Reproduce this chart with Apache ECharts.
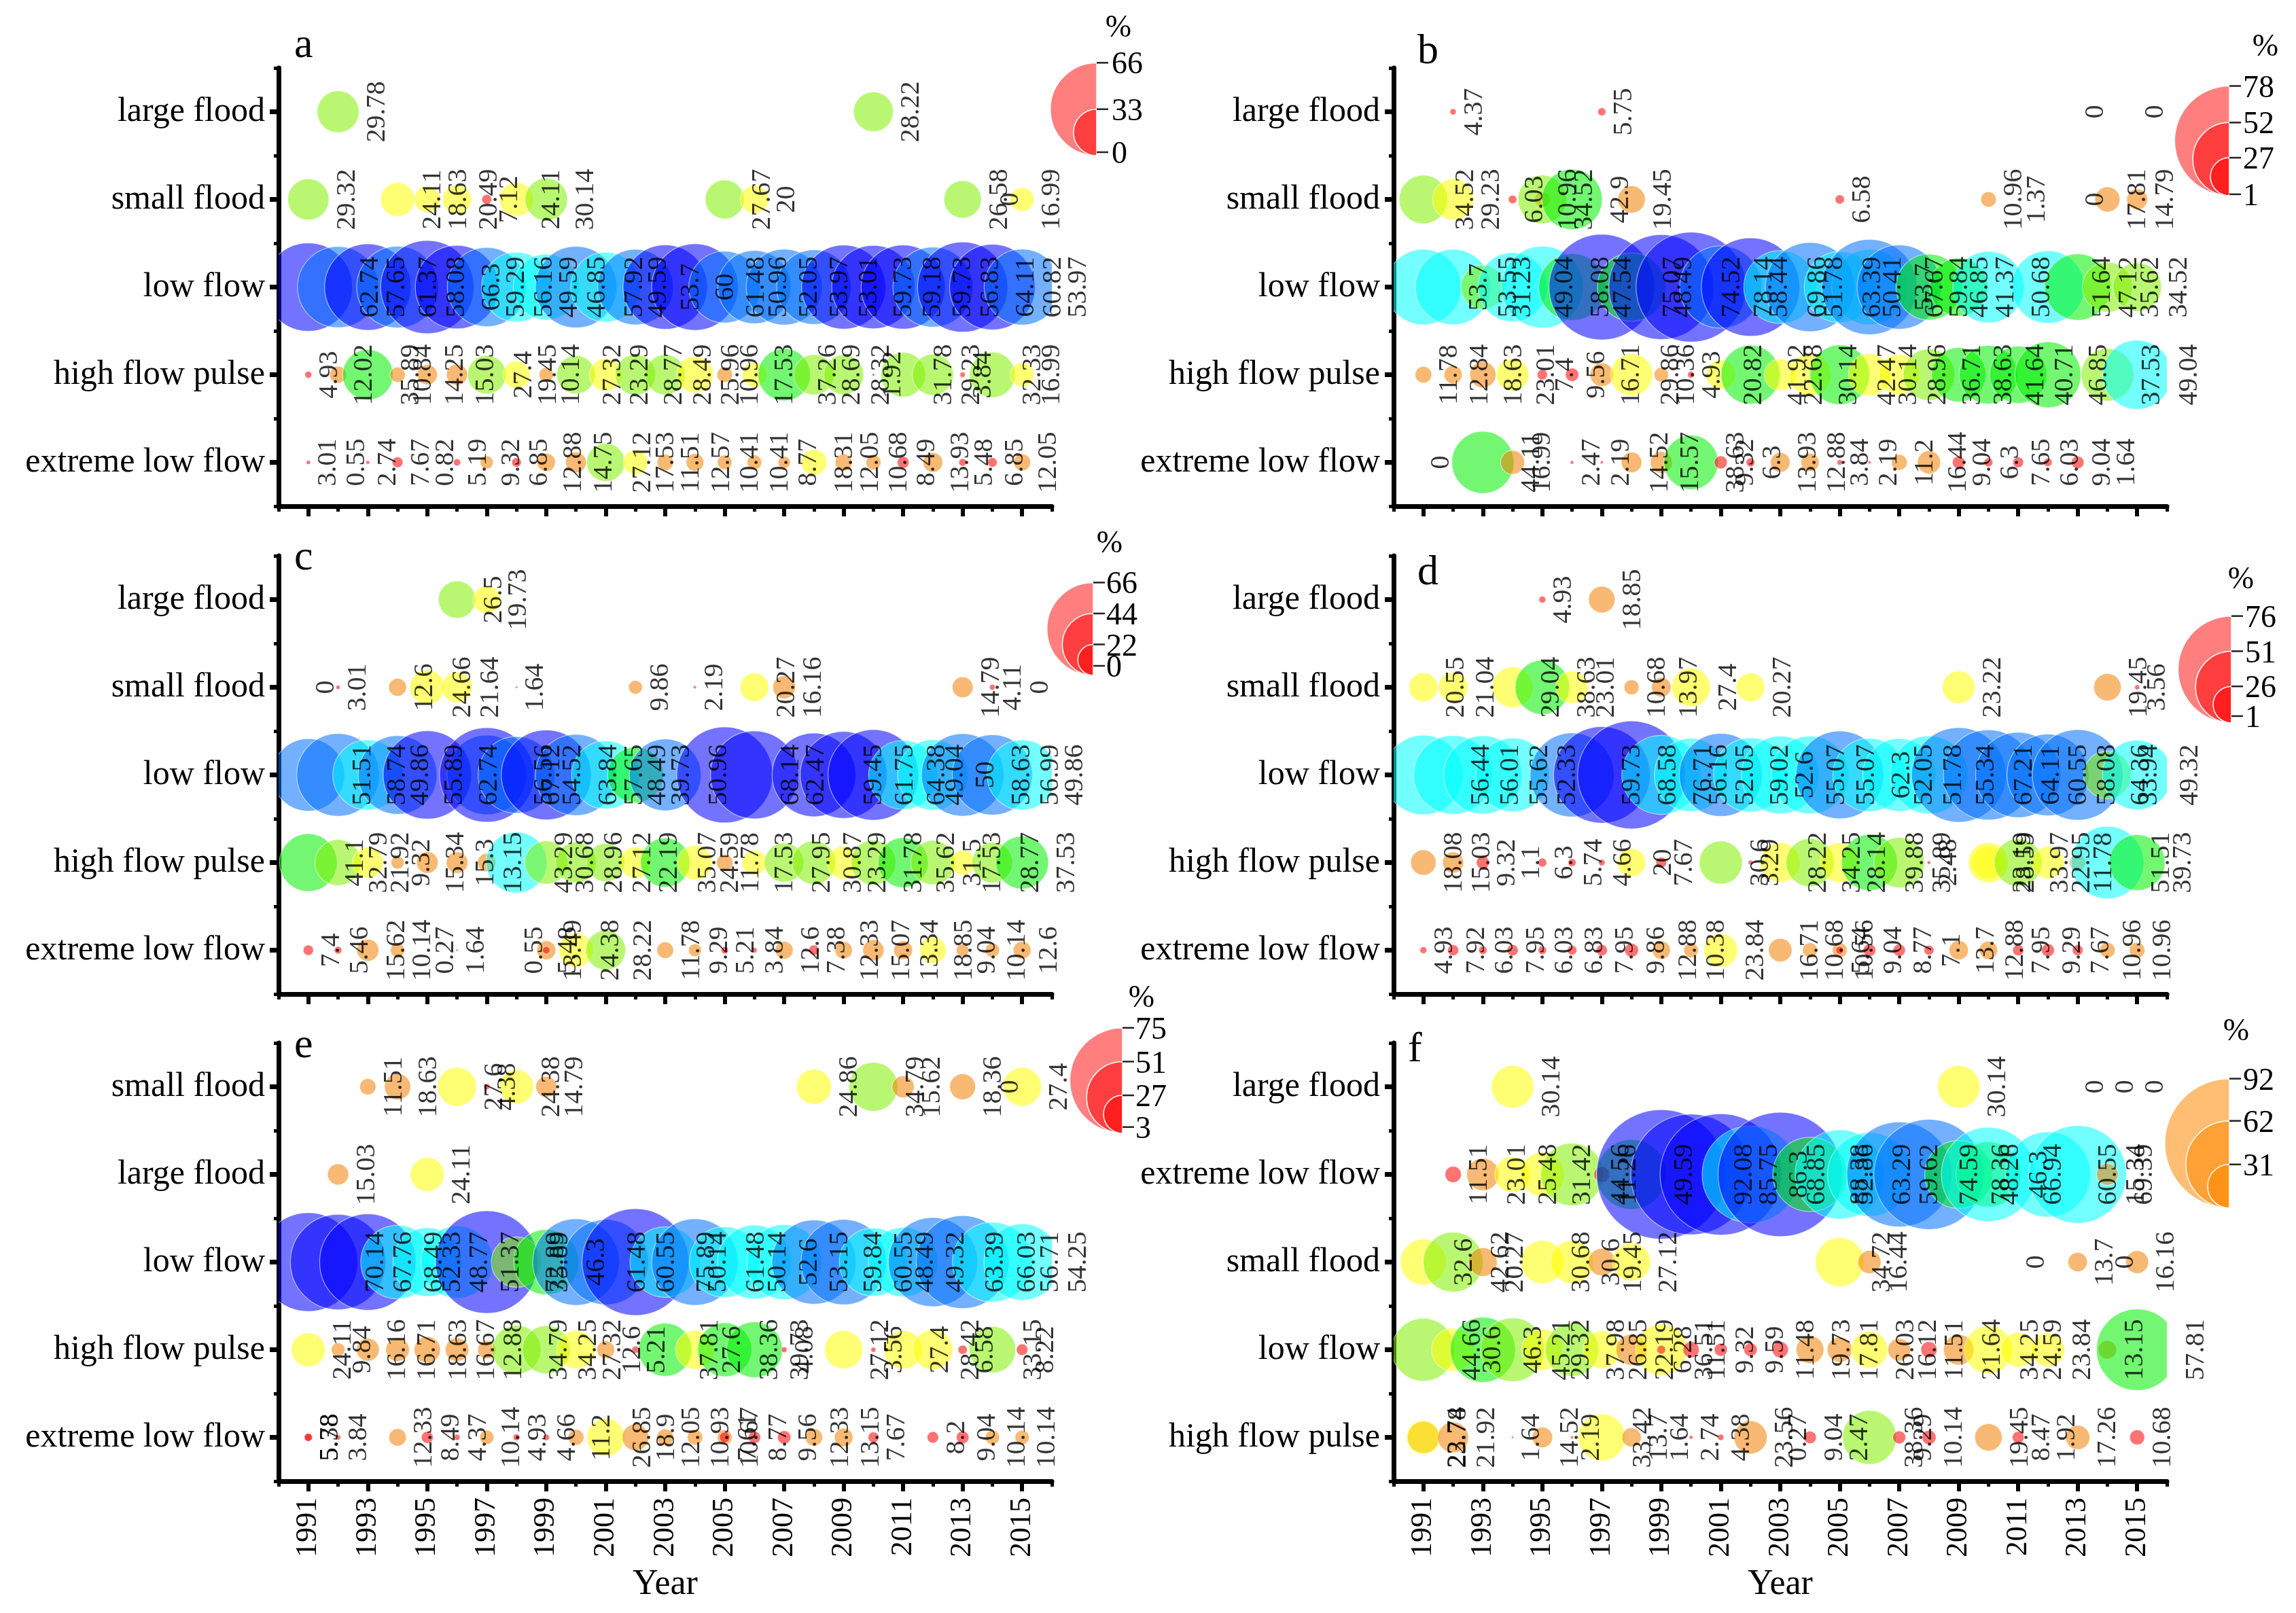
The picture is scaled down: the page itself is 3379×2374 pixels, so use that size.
<!DOCTYPE html>
<html><head><meta charset="utf-8">
<style>html,body{margin:0;padding:0;background:#fff}#c{width:3379px;height:2374px}</style>
<script src="https://cdn.jsdelivr.net/npm/echarts@6/dist/echarts.min.js"></script>
</head><body><div id="c"></div>
<script>
const oddYears=[1991,1993,1995,1997,1999,2001,2003,2005,2007,2009,2011,2013,2015];
const evenYears=[1990,1992,1994,1996,1998,2000,2002,2004,2006,2008,2010,2012,2014,2016];
const rowsStd=["large flood","small flood","low flow","high flow pulse","extreme low flow"];
const rowsE=["small flood","large flood","low flow","high flow pulse","extreme low flow"];
const rowsF=["large flood","extreme low flow","small flood","low flow","high flow pulse"];

// panel a
const aLarge=[[1992,29.78],[2010,28.22]];
const aSmall=[[1991,29.32],[1994,24.11],[1995,18.63],[1996,20.49],[1997,7.12],[1998,24.11],[1999,30.14],[2005,27.67],[2006,20],[2013,26.58],[2014,0],[2015,16.99]];
const aLow=[[1991,62.74],[1992,57.65],[1993,61.37],[1994,58.08],[1995,66.3],[1996,59.29],[1997,56.16],[1998,49.59],[1999,46.85],[2000,57.92],[2001,49.59],[2002,53.7],[2003,60],[2004,61.48],[2005,50.96],[2006,52.05],[2007,53.97],[2008,53.01],[2009,59.73],[2010,59.18],[2011,59.73],[2012,56.83],[2013,64.11],[2014,60.82],[2015,53.97]];
const aPulse=[[1991,4.93],[1992,12.02],[1993,35.89],[1994,10.84],[1995,14.25],[1996,15.03],[1997,27.4],[1998,19.45],[1999,10.14],[2000,27.32],[2001,23.29],[2002,28.77],[2003,28.49],[2004,25.96],[2005,10.96],[2006,17.53],[2007,37.26],[2008,28.69],[2009,28.32],[2010,1.92],[2011,31.78],[2012,29.23],[2013,3.84],[2014,32.33],[2015,16.99]];
const aExtreme=[[1991,3.01],[1992,0.55],[1993,2.74],[1994,7.67],[1995,0.82],[1996,5.19],[1997,9.32],[1998,6.85],[1999,12.88],[2000,14.75],[2001,27.12],[2002,17.53],[2003,11.51],[2004,12.57],[2005,10.41],[2006,10.41],[2007,8.77],[2008,18.31],[2009,12.05],[2010,10.68],[2011,8.49],[2012,13.93],[2013,5.48],[2014,6.85],[2015,12.05]];
// panel b
const bLarge=[[1992,4.37],[1997,5.75],[2013,0],[2015,0]];
const bSmall=[[1991,34.52],[1992,29.23],[1994,6.03],[1995,10.96],[1995,34.52],[1996,42.9],[1998,19.45],[2005,6.58],[2010,10.96],[2011,1.37],[2013,0],[2014,17.81],[2015,14.79]];
const bLow=[[1991,53.7],[1992,53.55],[1993,31.23],[1994,49.04],[1995,58.08],[1996,47.54],[1997,75.07],[1998,48.49],[1999,74.52],[2000,78.14],[2001,58.44],[2002,69.86],[2003,51.78],[2004,63.39],[2005,50.41],[2006,53.7],[2006,67.67],[2007,59.84],[2008,46.85],[2009,41.37],[2010,50.68],[2012,51.64],[2013,47.12],[2014,35.62],[2015,34.52]];
const bPulse=[[1991,11.78],[1992,12.84],[1993,18.63],[1994,23.01],[1995,7.4],[1996,9.56],[1997,16.71],[1998,29.86],[1999,10.36],[2000,4.93],[2001,20.82],[2002,41.92],[2003,22.68],[2004,30.14],[2005,42.47],[2006,30.14],[2007,28.96],[2008,36.71],[2009,38.63],[2010,41.64],[2011,40.71],[2012,46.85],[2014,37.53],[2015,49.04]];
const bExtreme=[[1991,0],[1993,44.11],[1994,16.99],[1996,2.47],[1997,2.19],[1998,14.52],[1999,15.57],[2000,38.63],[2001,9.32],[2002,6.3],[2003,13.93],[2004,12.88],[2005,3.84],[2006,2.19],[2007,11.2],[2008,16.44],[2009,9.04],[2010,6.3],[2011,7.65],[2012,6.03],[2013,9.04],[2014,1.64]];
// panel c
const cLarge=[[1996,26.5],[1997,19.73]];
const cSmall=[[1991,0],[1992,3.01],[1994,12.6],[1995,24.66],[1996,21.64],[1998,1.64],[2002,9.86],[2004,2.19],[2006,20.27],[2007,16.16],[2013,14.79],[2014,4.11],[2015,0]];
const cLow=[[1991,51.51],[1992,58.74],[1993,49.86],[1994,55.89],[1995,62.74],[1997,56.56],[1997,67.12],[1998,54.52],[1999,63.84],[2000,57.65],[2001,48.49],[2002,39.73],[2003,50.96],[2005,68.14],[2006,62.47],[2008,59.45],[2009,61.75],[2010,64.38],[2011,49.04],[2012,50],[2013,58.63],[2014,56.99],[2015,49.86]];
const cPulse=[[1991,41.1],[1992,32.79],[1993,21.92],[1994,9.32],[1995,15.34],[1996,15.3],[1997,13.15],[1998,43.29],[1999,30.68],[2000,28.96],[2001,27.12],[2002,22.19],[2003,35.07],[2004,24.59],[2005,11.78],[2006,17.53],[2007,27.95],[2008,30.87],[2009,23.29],[2010,31.78],[2011,35.62],[2012,31.5],[2013,17.53],[2014,28.77],[2015,37.53]];
const cExtreme=[[1991,7.4],[1992,5.46],[1993,15.62],[1994,10.14],[1995,0.27],[1996,1.64],[1998,0.55],[1999,13.49],[1999,5.48],[2000,24.38],[2001,28.22],[2003,11.78],[2004,9.29],[2005,5.21],[2006,3.84],[2007,12.6],[2008,7.38],[2009,12.33],[2010,15.07],[2011,13.34],[2012,18.85],[2013,9.04],[2014,10.14],[2015,12.6]];
// panel d
const dLarge=[[1995,4.93],[1997,18.85]];
const dSmall=[[1991,20.55],[1992,21.04],[1994,29.04],[1995,38.63],[1996,23.01],[1998,10.68],[1999,13.97],[2000,27.4],[2002,20.27],[2009,23.22],[2014,19.45],[2015,3.56]];
const dLow=[[1991,56.44],[1992,56.01],[1993,55.62],[1994,52.33],[1996,59.73],[1997,68.58],[1998,76.71],[1999,56.16],[2000,52.05],[2001,59.02],[2002,52.6],[2003,55.07],[2004,55.07],[2005,62.3],[2006,52.05],[2007,51.78],[2008,55.34],[2009,67.21],[2010,64.11],[2011,60.55],[2012,58.08],[2013,64.36],[2014,33.94],[2015,49.32]];
const dPulse=[[1991,18.08],[1992,15.03],[1993,9.32],[1994,1.1],[1995,6.3],[1996,5.74],[1997,4.66],[1998,20],[1999,7.67],[2001,30.6],[2002,3.29],[2003,28.22],[2004,34.25],[2005,28.14],[2006,39.88],[2007,35.89],[2008,2.48],[2010,23.19],[2010,28.59],[2011,33.97],[2012,22.95],[2013,11.78],[2014,51.51],[2015,39.73]];
const dExtreme=[[1991,4.93],[1992,7.92],[1993,6.03],[1994,7.95],[1995,6.03],[1996,6.83],[1997,7.95],[1998,9.86],[1999,12.88],[2000,10.38],[2001,23.84],[2003,16.71],[2004,10.68],[2005,10.56],[2005,5.64],[2006,9.04],[2007,8.77],[2008,7.1],[2009,13.7],[2010,12.88],[2011,7.95],[2012,9.29],[2013,7.67],[2014,10.96],[2015,10.96]];
// panel e
const eSmall=[[1993,11.51],[1994,18.63],[1996,27.6],[1997,4.38],[1998,24.38],[1999,14.79],[2008,24.86],[2010,34.79],[2011,15.62],[2013,18.36],[2014,0],[2015,27.4]];
const eLarge=[[1992,15.03],[1995,24.11]];
const eLow=[[1991,70.14],[1992,67.76],[1993,68.49],[1994,52.33],[1995,48.77],[1996,51.37],[1997,72.89],[1998,35.89],[1999,46.3],[2000,61.48],[2001,60.55],[2002,75.89],[2003,50.14],[2004,61.48],[2005,50.14],[2006,52.6],[2007,53.15],[2008,59.84],[2009,60.55],[2010,48.49],[2011,49.32],[2012,63.39],[2013,66.03],[2014,56.71],[2015,54.25]];
const ePulse=[[1991,24.11],[1992,9.84],[1993,16.16],[1994,16.71],[1995,18.63],[1996,16.67],[1997,12.88],[1998,34.79],[1999,34.25],[2000,27.32],[2001,12.6],[2002,5.21],[2003,37.81],[2004,27.6],[2005,38.36],[2006,39.73],[2007,4.08],[2009,27.12],[2010,3.56],[2011,27.4],[2012,28.42],[2013,6.58],[2014,33.15],[2015,8.22]];
const eExtreme=[[1991,5.38],[1991,5.78],[1992,3.84],[1994,12.33],[1995,8.49],[1996,4.37],[1997,10.14],[1998,4.93],[1999,4.66],[2000,11.2],[2001,26.85],[2002,18.9],[2003,12.05],[2004,10.93],[2005,10.67],[2005,7.61],[2006,8.77],[2007,9.56],[2008,12.33],[2009,13.15],[2010,7.67],[2012,8.2],[2013,9.04],[2014,10.14],[2015,10.14]];
// panel f
const fLarge=[[1994,30.14],[2009,30.14],[2013,0],[2014,0],[2015,0]];
const fExtreme=[[1992,11.51],[1993,23.01],[1994,25.48],[1995,31.42],[1996,44.56],[1997,11.26],[1998,49.59],[1999,92.08],[2000,85.75],[2001,86.3],[2002,68.85],[2003,88.38],[2004,52.86],[2005,63.29],[2006,59.62],[2007,74.59],[2008,78.36],[2009,48.26],[2010,46.3],[2010,66.94],[2012,60.55],[2013,69.39],[2014,15.34]];
const fSmall=[[1991,32.6],[1992,42.62],[1993,20.27],[1995,30.68],[1996,30.6],[1997,19.45],[1998,27.12],[2005,34.72],[2006,16.44],[2011,0],[2013,13.7],[2014,0],[2015,16.16]];
const fLow=[[1991,44.66],[1992,30.6],[1993,46.3],[1994,45.21],[1995,29.32],[1996,37.98],[1997,26.85],[1998,22.19],[1999,36.51],[1999,6.28],[2000,11.51],[2001,9.32],[2002,9.59],[2003,11.48],[2004,19.73],[2005,17.81],[2006,26.03],[2007,16.12],[2008,11.51],[2009,21.64],[2010,34.25],[2011,24.59],[2012,23.84],[2014,13.15],[2015,57.81]];
const fPulse=[[1991,22.74],[1991,23.78],[1992,21.92],[1994,1.64],[1995,14.52],[1996,2.19],[1997,33.42],[1998,13.7],[1999,1.64],[2000,2.74],[2001,4.38],[2002,23.56],[2003,0.27],[2004,9.04],[2005,2.47],[2006,38.36],[2007,9.29],[2008,10.14],[2010,19.45],[2011,8.47],[2012,1.92],[2013,17.26],[2015,10.68]];

const legendA=[66,33,0], legendB=[78,52,27,1], legendC=[66,44,22,0], legendD=[76,51,26,1], legendE=[75,51,27,3], legendF=[92,62,31];

const panels=[
 {letter:'a',rows:rowsStd,data:[aLarge,aSmall,aLow,aPulse,aExtreme],legend:legendA,max:66,left:410,top:100,lx:[453,73],flat:1614,bot:229,lift:5,pct:[1646,42],txt:1636,fill:'rgba(255,0,0,0.5)',labels:false},
 {letter:'b',rows:rowsStd,data:[bLarge,bSmall,bLow,bPulse,bExtreme],legend:legendB,max:76.5,left:2051,top:100,lx:[2106,82],flat:3281,bot:288,lift:0,pct:[3334,70],txt:3301,fill:'rgba(255,0,0,0.5)',labels:false},
 {letter:'c',rows:rowsStd,data:[cLarge,cSmall,cLow,cPulse,cExtreme],legend:legendC,max:66,left:410,top:818,lx:[453,827],flat:1609,bot:994,lift:14,pct:[1633,801],txt:1628,fill:'rgba(255,0,0,0.5)',labels:false},
 {letter:'d',rows:rowsStd,data:[dLarge,dSmall,dLow,dPulse,dExtreme],legend:legendD,max:76,left:2051,top:818,lx:[2106,849],flat:3284,bot:1064,lift:8,pct:[3298,854],txt:3304,fill:'rgba(255,0,0,0.5)',labels:false},
 {letter:'e',rows:rowsE,data:[eSmall,eLarge,eLow,ePulse,eExtreme],legend:legendE,max:75,left:410,top:1535,lx:[453,1545],flat:1652,bot:1668,lift:3,pct:[1680,1470],txt:1671,fill:'rgba(255,0,0,0.5)',labels:true},
 {letter:'f',rows:rowsF,data:[fLarge,fExtreme,fSmall,fLow,fPulse],legend:legendF,max:92,left:2051,top:1535,lx:[2092,1551],flat:3281,bot:1778,lift:0,pct:[3291,1519],txt:3301,fill:'rgba(255,136,0,0.55)',labels:true}
];
const PW=1138, PH=645, K=2.07, FONT='"Liberation Serif","Times New Roman",serif', INK='#000';
const A=0.55;
const bands=[[.13,`rgba(255,0,0,${A})`],[.257,`rgba(240,128,0,${A})`],[.40,`rgba(255,255,0,${A})`],[.50,`rgba(128,240,0,${A})`],[.64,`rgba(0,240,0,${A})`],[.76,`rgba(0,255,255,${A})`],[.895,`rgba(0,112,255,${A})`],[9,`rgba(0,0,255,${A})`]];
const colorOf=(v,max)=>bands.find(b=>v/max<b[0])[1];

const grid=[],xAxis=[],yAxis=[],series=[],graphic=[];
const axisLine={show:true,onZero:false,lineStyle:{color:'#000',width:7}};
panels.forEach((p,i)=>{
  grid.push({left:p.left,top:p.top,width:PW,height:PH});
  xAxis.push({type:'value',gridIndex:i,min:1990,max:2016,interval:1,position:'bottom',
    axisLine,splitLine:{show:false},
    axisTick:{show:true,length:15,customValues:oddYears,lineStyle:{color:'#000',width:6}},
    axisLabel:{show:p.labels,customValues:oddYears,rotate:90,margin:24,fontFamily:FONT,fontSize:44,color:INK,formatter:v=>String(v)},
    name:p.labels?'Year':'',nameLocation:'middle',nameGap:126,nameTextStyle:{fontFamily:FONT,fontSize:52,color:INK}});
  xAxis.push({type:'value',gridIndex:i,min:1990,max:2016,interval:1,position:'bottom',
    axisLine:{show:false,onZero:false},splitLine:{show:false},
    axisTick:{show:true,length:8,customValues:evenYears,lineStyle:{color:'#000',width:5}},axisLabel:{show:false}});
  const cats=p.rows.slice().reverse();
  yAxis.push({type:'category',gridIndex:i,data:cats,position:'left',axisLine,
    axisTick:{show:true,alignWithLabel:true,length:13,interval:0,lineStyle:{color:'#000',width:7}},
    axisLabel:{margin:20,interval:0,fontFamily:FONT,fontSize:50,color:INK}});
  yAxis.push({type:'category',gridIndex:i,data:cats,position:'left',axisLine:{show:false,onZero:false},
    axisTick:{show:true,alignWithLabel:false,length:7,interval:0,lineStyle:{color:'#000',width:5}},axisLabel:{show:false}});
  const pts=[];
  p.rows.forEach((r,ri)=>p.data[ri].forEach(d=>pts.push([d[0],cats.indexOf(r),d[1]])));
  // bubbles: clipped to the plot area, through the axes' scales
  series.push({type:'custom',coordinateSystem:'cartesian2d',xAxisIndex:i*2,yAxisIndex:i*2,data:pts,silent:true,clip:true,animation:false,
    encode:{x:0,y:1},
    renderItem:(params,api)=>{
      const c=api.coord([api.value(0),api.value(1)]);
      const v=api.value(2);
      return {type:'circle',shape:{cx:c[0],cy:c[1],r:v*K/2},
        style:{fill:colorOf(v,p.max),stroke:'rgba(255,255,255,0.55)',lineWidth:1.2}};
    }});
  // value labels beside each bubble (not clipped)
  series.push({type:'scatter',xAxisIndex:i*2,yAxisIndex:i*2,data:pts,silent:true,animation:false,
    symbol:'circle',symbolSize:v=>Math.max(v[2]*K,0.1),
    itemStyle:{color:'rgba(0,0,0,0)'},
    label:{show:true,position:'right',distance:27,rotate:90,align:'center',verticalAlign:'middle',
      fontFamily:FONT,fontSize:40,color:INK,formatter:q=>String(q.value[2])},
    labelLayout:{hideOverlap:false}});
  graphic.push({type:'text',left:p.lx[0]-20,top:p.lx[1]-36,style:{text:p.letter,font:'62px '+FONT,fill:INK}});
  graphic.push({type:'text',x:p.pct[0],y:p.pct[1],style:{text:'%',font:'46px '+FONT,fill:INK,textAlign:'center',textVerticalAlign:'middle'}});
  p.legend.forEach((v,j)=>{
    const r=v*K/2;
    if(r>4) graphic.push({type:'sector',shape:{cx:p.flat,cy:p.bot-r,r,startAngle:Math.PI/2,endAngle:Math.PI*1.5,clockwise:true},
      style:{fill:p.fill,stroke:'#fff',lineWidth:1.5}});
    const y=p.bot-v*K-(j===p.legend.length-1?p.lift:0);
    graphic.push({type:'line',shape:{x1:p.flat,y1:y,x2:p.flat+17,y2:y},style:{stroke:'#222',lineWidth:2.5}});
    graphic.push({type:'text',x:p.txt,y:y+4,style:{text:String(v),font:'46px '+FONT,fill:INK,textAlign:'left',textVerticalAlign:'middle'}});
  });
});
const chart=echarts.init(document.getElementById('c'),null,{renderer:'canvas'});
chart.setOption({animation:false,backgroundColor:'#fff',grid,xAxis,yAxis,series,graphic});
</script></body></html>
